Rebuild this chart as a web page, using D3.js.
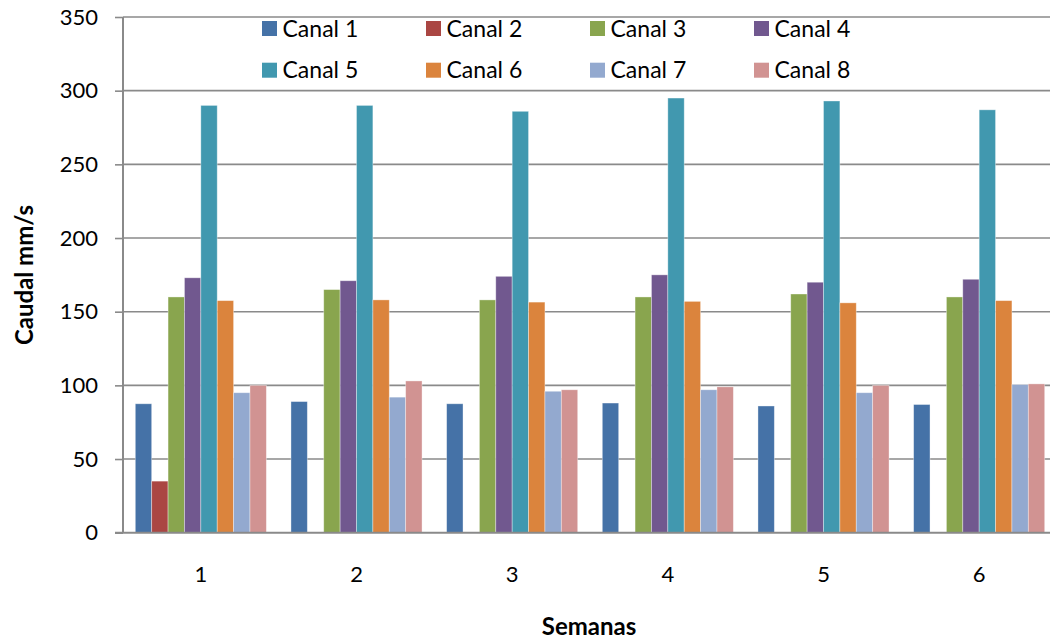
<!DOCTYPE html>
<html>
<head>
<meta charset="utf-8">
<script src="https://cdn.jsdelivr.net/npm/d3@7"></script>
<style>
  html, body { margin: 0; padding: 0; background: #fff; }
  svg { display: block; }
  text { font-family: Lato, "Open Sans", sans-serif; fill: #000; }
</style>
</head>
<body>
<svg id="chart" width="1050" height="639"></svg>
<script>
const weeks = ["1", "2", "3", "4", "5", "6"];
const seriesNames = ["Canal 1", "Canal 2", "Canal 3", "Canal 4", "Canal 5", "Canal 6", "Canal 7", "Canal 8"];
const colors = ["#4572A7", "#AA4643", "#89A54E", "#71588F", "#4198AF", "#DB843D", "#93A9CF", "#D19392"];
const canal1 = [87.5, 89, 87.5, 88, 86, 87];
const canal2 = [35, 0, 0, 0, 0, 0];
const canal3 = [160, 165, 158, 160, 162, 160];
const canal4 = [173, 171, 174, 175, 170, 172];
const canal5 = [290, 290, 286, 295, 293, 287];
const canal6 = [157.5, 158, 156.5, 157, 156, 157.5];
const canal7 = [95, 92, 96, 97, 95, 100.5];
const canal8 = [100, 103, 97, 99, 100, 101];
const yTicks = [0, 50, 100, 150, 200, 250, 300, 350];

const seriesValues = [canal1, canal2, canal3, canal4, canal5, canal6, canal7, canal8];

const svg = d3.select("#chart");
const pLeft = 123, pTop = 17, pBottom = 532.7, pRight = 1057;

const x0 = d3.scaleBand().domain(weeks).range([pLeft, pRight]).paddingInner(0.158).paddingOuter(0.079);
const x1 = d3.scaleBand().domain(seriesNames).range([0, x0.bandwidth()]);
const y = d3.scaleLinear().domain([0, 350]).range([pBottom, pTop]);

// gridlines
svg.append("g").selectAll("line").data(yTicks.filter(d => d > 0)).join("line")
  .attr("x1", pLeft).attr("x2", 1050)
  .attr("y1", d => y(d)).attr("y2", d => y(d))
  .attr("stroke", "#8a8a8a").attr("stroke-width", 1.6);

// bars
const groups = svg.append("g").selectAll("g").data(weeks).join("g")
  .attr("transform", d => `translate(${x0(d)},0)`);
groups.selectAll("rect")
  .data((w, i) => seriesNames.map((s, k) => ({ s, v: seriesValues[k][i], c: colors[k] })).filter(d => d.v > 0))
  .join("rect")
  .attr("x", d => x1(d.s))
  .attr("width", x1.bandwidth())
  .attr("y", d => y(d.v))
  .attr("height", d => y(0) - y(d.v))
  .attr("fill", d => d.c)
  .attr("stroke", "rgba(255,255,255,0.45)")
  .attr("stroke-width", 0.8);

// y axis
const yAxis = d3.axisLeft(y).tickValues(yTicks).tickSize(8).tickPadding(17).tickFormat(d3.format("d"));
const ya = svg.append("g").attr("transform", `translate(${pLeft},0)`).call(yAxis);
ya.select(".domain").attr("stroke", "#8a8a8a").attr("stroke-width", 2).attr("d", `M0,${pTop}V${pBottom}`);
ya.selectAll(".tick line").attr("stroke", "#8a8a8a").attr("stroke-width", 1.6);
ya.selectAll(".tick text").style("font-size", "22px").style("font-family", "Lato, sans-serif").attr("fill", "#000");

// x axis
const xAxis = d3.axisBottom(x0).tickSize(0).tickPadding(34);
const xa = svg.append("g").attr("transform", `translate(0,${pBottom})`).call(xAxis);
xa.select(".domain").attr("stroke", "#8a8a8a").attr("stroke-width", 2).attr("d", `M${pLeft - 8},0H1050`);
xa.selectAll(".tick text").style("font-size", "22px").style("font-family", "Lato, sans-serif").attr("fill", "#000");

// axis titles
svg.append("text").attr("x", 589).attr("y", 635)
  .attr("text-anchor", "middle").style("font-size", "24px").style("font-weight", "bold").text("Semanas");
svg.append("text").attr("transform", "translate(33,275) rotate(-90)")
  .attr("text-anchor", "middle").style("font-size", "24px").style("font-weight", "bold").text("Caudal mm/s");

// legend
const legend = svg.append("g");
const items = legend.selectAll("g").data(seriesNames).join("g")
  .attr("transform", (d, i) => `translate(${262 + (i % 4) * 164},${i < 4 ? 21 : 62.7})`);
items.append("rect").attr("width", 15).attr("height", 15).attr("fill", (d, i) => colors[i]);
items.append("text").attr("x", 20.5).attr("y", 7.5).attr("dy", "0.36em")
  .style("font-size", "23px").text(d => d);
</script>
</body>
</html>
